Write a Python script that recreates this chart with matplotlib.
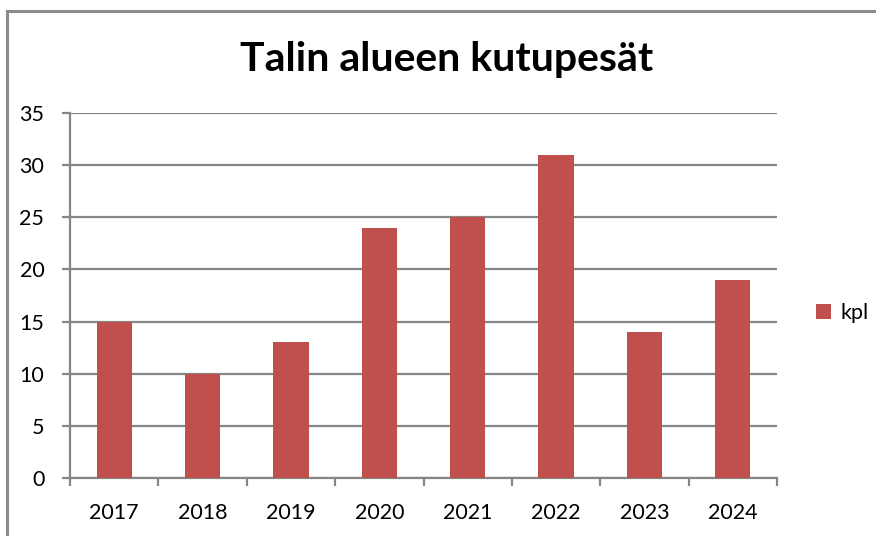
import matplotlib
matplotlib.use("Agg")
import matplotlib.pyplot as plt
from matplotlib.lines import Line2D
import numpy as np

years = ["2017", "2018", "2019", "2020", "2021", "2022", "2023", "2024"]
kpl = [15, 10, 13, 24, 25, 31, 14, 19]
title = "Talin alueen kutupesät"
series_name = "kpl"

plt.rcParams['font.family'] = ['Lato', 'DejaVu Sans']

W, H = 876, 536
fig = plt.figure(figsize=(W/100, H/100), dpi=100)
ax = fig.add_axes([70/W, 1-478/H, (777-70)/W, (478-113)/H])

bar_color = "#C0504D"
grid_color = "#868686"
x = np.arange(len(years))
ax.bar(x, kpl, width=0.4, color=bar_color, label=series_name, zorder=3)

ax.set_xlim(-0.5, len(years)-0.5)
ax.set_ylim(0, 35)
ax.set_yticks(np.arange(0, 36, 5))
ax.yaxis.grid(True, color=grid_color, linewidth=1.6, zorder=0)
ax.set_xticks(x)
ax.set_xticklabels(years)
ax.set_xticks(np.arange(-0.5, len(years), 1), minor=True)
ax.tick_params(axis='x', which='major', length=0, pad=18, labelsize=15.5)
ax.tick_params(axis='x', which='minor', length=5.5, width=1.6, color=grid_color, direction='out')
ax.tick_params(axis='y', length=5.5, width=1.6, color=grid_color, labelsize=15.5, pad=13)
for s in ['top', 'right']:
    ax.spines[s].set_visible(False)
for s in ['left', 'bottom']:
    ax.spines[s].set_color(grid_color)
    ax.spines[s].set_linewidth(1.6)

fig.text(447/W, 1-59/H, title, ha='center', va='center', fontsize=29.5, fontweight='bold')

leg = fig.legend(loc='center left', bbox_to_anchor=(797/W, 1-313/H), frameon=False,
                 fontsize=15.5, handlelength=0.7, handleheight=0.7, handletextpad=0.4)

# outer chart border
fig.add_artist(Line2D([7/W, 7/W], [0, 1-11/H], color="#8C8C8C", linewidth=2.2, transform=fig.transFigure))
fig.add_artist(Line2D([7/W, 1], [1-11/H, 1-11/H], color="#8C8C8C", linewidth=2.2, transform=fig.transFigure))

fig.savefig("out.png", dpi=100, facecolor="white")
